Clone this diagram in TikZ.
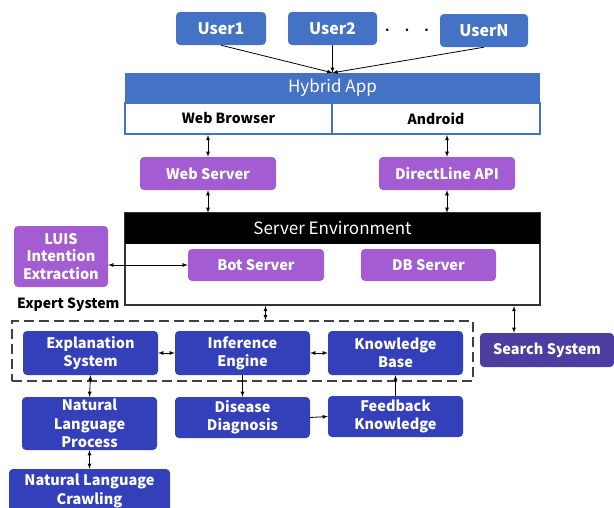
\documentclass[tikz,border=0pt]{standalone}
\usepackage{fontspec}
\setmainfont{Noto Sans CJK KR}
\usepackage{xcolor}
\usetikzlibrary{arrows,calc}
\definecolor{userblue}{RGB}{68,114,196}
\definecolor{srvpurple}{RGB}{163,92,209}
\definecolor{expblue}{RGB}{52,64,186}
\definecolor{searchpurple}{RGB}{76,61,160}
\def\lbl{\bfseries\fontsize{14.5}{18.2}\selectfont}

\begin{document}
\begin{tikzpicture}[x=1pt,y=-1pt,
    box/.style={rounded corners=4pt, text=white, inner sep=0pt, align=center, font=\lbl},
    userbox/.style={box, fill=userblue, minimum height=33, font=\bfseries\fontsize{16}{18}\selectfont},
    srvbox/.style={box, fill=srvpurple, minimum width=136, minimum height=33},
    expbox/.style={box, fill=expblue, minimum width=135},
    conn/.style={line width=0.8pt, latex-latex},
    flow/.style={line width=0.8pt, -latex}]
    \useasboundingbox (0,0) rectangle (614,507);

    % users
    \node[userbox, minimum width=90] (user1) at (221,28.5) {User1};
    \node[userbox, minimum width=89] (user2) at (332.5,28.5) {User2};
    \node[userbox, minimum width=88] (usern) at (484,30.5) {UserN};
    \node[inner sep=0pt, font=\fontsize{24}{24}\selectfont] (dots) at (407,31) {$\cdot\hspace{7.3pt}\cdot\hspace{7.3pt}\cdot$};

    % hybrid app
    \node[fill=userblue, text=white, minimum width=415, minimum height=30, inner sep=0pt,
          font=\fontsize{17}{19}\selectfont] (hyb) at (332.5,88) {Hybrid App};
    \node[draw=userblue, line width=2pt, minimum width=207, minimum height=31, inner sep=0pt,
          font=\bfseries\fontsize{14}{16}\selectfont] (browser) at (228.5,118.5) {Web Browser};
    \node[draw=userblue, line width=2pt, minimum width=208, minimum height=31, inner sep=0pt,
          font=\bfseries\fontsize{14}{16}\selectfont] (android) at (436,118.5) {Android};

    \draw[flow] (user1.south) -- (hyb.north);
    \draw[flow] (user2.south) -- (hyb.north);
    \draw[flow] (usern.south) -- (hyb.north);

    % servers
    \node[srvbox] (websrv) at (208,173.5) {Web Server};
    \node[srvbox] (direct) at (447,173.5) {DirectLine API};

    \draw[conn] (websrv.north) -- (websrv.north |- browser.south);
    \draw[conn] (direct.north) -- (direct.north |- android.south);

    % server environment
    \node[draw=black!80, line width=2pt, minimum width=415, minimum height=92, inner sep=0pt] (env) at (332.5,259) {};
    \node[fill=black, text=white, minimum width=415, minimum height=31, inner sep=0pt,
          font=\fontsize{17}{19}\selectfont] (envhead) at (332.5,228.5) {Server Environment};
    \node[srvbox, minimum height=32] (bot) at (256,265) {Bot Server};
    \node[srvbox, minimum width=135, minimum height=32] (db) at (428.5,265) {DB Server};
    \node[srvbox, minimum width=94, minimum height=61, font=\bfseries\fontsize{14.5}{17.5}\selectfont] (luis) at (61,256.5) {LUIS\\Intention\\Extraction};

    \draw[conn] (websrv.south) -- (websrv.south |- envhead.north);
    \draw[conn] (direct.south) -- (direct.south |- envhead.north);
    \draw[conn] (bot.west -| luis.east) -- (bot.west);

    % expert system
    \node[anchor=west, inner sep=0pt, font=\bfseries\fontsize{14}{17}\selectfont] (explbl) at (17,305) {Expert System};
    \node[draw=black!75, line width=1.8pt, dash pattern=on 10pt off 5pt,
          minimum width=461, minimum height=60, inner sep=0pt] (expert) at (242.5,351) {};
    \node[expbox, minimum height=44] (expl) at (90.5,353) {Explanation\\System};
    \node[expbox, minimum height=44] (infer) at (242.5,353) {Inference\\Engine};
    \node[expbox, minimum height=44] (know) at (395.5,353) {Knowledge\\Base};
    \node[box, fill=searchpurple, minimum width=134, minimum height=34] (search) at (547,350) {Search System};

    \draw[conn] ([xshift=-67]env.south) -- ([xshift=-67]env.south |- expert.north);
    \draw[conn] ([xshift=-33]search.north) -- ([xshift=-33]search.north |- env.south);
    \draw[conn] (expl.east) -- (infer.west);
    \draw[conn] (infer.east) -- (know.west);

    % below the expert system
    \node[expbox, minimum height=53] (nlp) at (89.5,423.5) {Natural\\Language\\Process};
    \node[expbox, minimum height=41] (disease) at (242.5,417.5) {Disease\\Diagnosis};
    \node[expbox, minimum height=41] (feedback) at (395.5,416.5) {Feedback\\Knowledge};
    \node[expbox, minimum width=161, minimum height=44] (nlc) at (89.5,491) {Natural Language\\Crawling};

    \draw[conn] (expl.south) -- (nlp.north);
    \draw[conn] (nlp.south) -- (nlc.north);
    \draw[flow] (infer.south) -- (disease.north);
    \draw[flow] (disease.east) -- (feedback.west);
    \draw[flow] (feedback.north) -- (know.south);
\end{tikzpicture}
\end{document}
